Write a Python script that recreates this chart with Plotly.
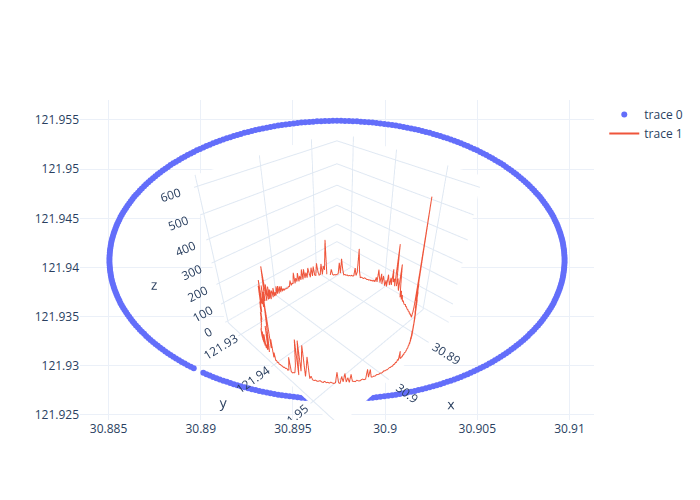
# Coordinates below are estimates: the ring is
# visibly continuous, so its positions are listed densely along the drawn band,
# and the altitudes are rough readings of the spikes (small noise is eyeballed).
import plotly.graph_objects as go

lat_x = [
30.89014,30.89031,30.89049,30.89067,30.89085,30.89103,30.89122,30.89141,30.89160,30.89179,30.89198,30.89217,
30.89237,30.89257,30.89277,30.89297,30.89317,30.89337,30.89358,30.89378,30.89399,30.89420,30.89440,30.89461,
30.89482,30.89504,30.89525,30.89546,30.89567,30.89589,30.89610,30.89631,30.89653,30.89674,30.89696,30.89717,
30.89739,
30.89761,30.89782,30.89804,30.89825,30.89847,30.89868,30.89889,30.89911,30.89932,30.89953,30.89974,30.89996,
30.90017,30.90038,30.90058,30.90079,30.90100,30.90120,30.90141,30.90161,30.90181,30.90201,30.90221,30.90241,
30.90261,30.90280,30.90299,30.90318,30.90337,30.90356,30.90375,30.90393,30.90411,30.90429,30.90447,30.90464,
30.90482,30.90499,30.90516,30.90532,30.90549,30.90565,30.90581,30.90596,30.90612,30.90627,30.90642,30.90656,
30.90670,30.90684,30.90698,30.90711,30.90724,30.90737,30.90750,30.90762,30.90774,30.90785,30.90797,30.90808,
30.90818,30.90829,30.90839,30.90848,30.90857,30.90866,30.90875,30.90883,30.90891,30.90899,30.90906,30.90913,
30.90919,30.90925,30.90931,30.90936,30.90941,30.90946,30.90950,30.90954,30.90958,30.90961,30.90964,30.90966,
30.90968,30.90970,30.90971,30.90972,30.90973,30.90973,
30.90973,30.90972,30.90971,30.90970,30.90968,30.90966,30.90964,30.90961,30.90958,30.90954,30.90950,30.90946,
30.90941,30.90936,30.90931,30.90925,30.90919,30.90913,30.90906,30.90899,30.90891,30.90883,30.90875,30.90866,
30.90857,30.90848,30.90839,30.90829,30.90818,30.90808,30.90797,30.90785,30.90774,30.90762,30.90750,30.90737,
30.90724,30.90711,30.90698,30.90684,30.90670,30.90656,30.90642,30.90627,30.90612,30.90596,30.90581,30.90565,
30.90549,30.90532,30.90516,30.90499,30.90482,30.90464,30.90447,30.90429,30.90411,30.90393,30.90375,30.90356,
30.90337,30.90318,30.90299,30.90280,30.90261,30.90241,30.90221,30.90201,30.90181,30.90161,30.90141,30.90120,
30.90100,30.90079,30.90058,30.90038,30.90017,30.89996,30.89974,30.89953,30.89932,30.89911,30.89889,30.89868,
30.89847,30.89825,30.89804,30.89782,30.89761,30.89739,
30.89717,30.89696,30.89674,30.89653,30.89631,30.89610,30.89589,30.89567,30.89546,30.89525,30.89504,30.89482,
30.89461,30.89440,30.89420,30.89399,30.89378,30.89358,30.89337,30.89317,30.89297,30.89277,30.89257,30.89237,
30.89217,30.89198,30.89179,30.89160,30.89141,30.89122,30.89103,30.89085,30.89067,30.89049,30.89031,30.89014,
30.88996,30.88979,30.88962,30.88946,30.88929,30.88913,30.88897,30.88882,30.88866,30.88851,30.88836,30.88822,
30.88808,30.88794,30.88780,30.88767,30.88754,30.88741,30.88728,30.88716,30.88704,30.88693,30.88681,30.88670,
30.88660,30.88649,30.88639,30.88630,30.88621,30.88612,30.88603,30.88595,30.88587,30.88579,30.88572,30.88565,
30.88559,30.88553,30.88547,30.88542,30.88537,30.88532,30.88528,30.88524,30.88520,30.88517,30.88514,30.88512,
30.88510,30.88508,30.88507,30.88506,30.88505,30.88505,
30.88505,30.88506,30.88507,30.88508,30.88510,30.88512,30.88514,30.88517,30.88520,30.88524,30.88528,30.88532,
30.88537,30.88542,30.88547,30.88553,30.88559,30.88565,30.88572,30.88579,30.88587,30.88595,30.88603,30.88612,
30.88621,30.88630,30.88639,30.88649,30.88660,30.88670,30.88681,30.88693,30.88704,30.88716,30.88728,30.88741,
30.88754,30.88767,30.88780,30.88794,30.88808,30.88822,30.88836,30.88851,30.88866,30.88882,30.88897,30.88913,
30.88929,30.88946,30.88962,
]

lon_y = [
121.92929,121.92915,121.92901,121.92887,121.92874,121.92861,121.92849,121.92837,121.92825,121.92813,121.92802,121.92792,
121.92781,121.92772,121.92762,121.92753,121.92744,121.92736,121.92728,121.92721,121.92714,121.92707,121.92701,121.92695,
121.92690,121.92685,121.92681,121.92676,121.92673,121.92670,121.92667,121.92664,121.92662,121.92661,121.92660,121.92659,
121.92659,
121.92659,121.92660,121.92661,121.92662,121.92664,121.92667,121.92670,121.92673,121.92676,121.92681,121.92685,121.92690,
121.92695,121.92701,121.92707,121.92714,121.92721,121.92728,121.92736,121.92744,121.92753,121.92762,121.92772,121.92781,
121.92792,121.92802,121.92813,121.92825,121.92837,121.92849,121.92861,121.92874,121.92887,121.92901,121.92915,121.92929,
121.92944,121.92959,121.92975,121.92990,121.93006,121.93023,121.93039,121.93056,121.93074,121.93091,121.93109,121.93128,
121.93146,121.93165,121.93184,121.93203,121.93223,121.93243,121.93263,121.93283,121.93304,121.93325,121.93346,121.93367,
121.93389,121.93410,121.93432,121.93454,121.93477,121.93499,121.93522,121.93545,121.93568,121.93591,121.93614,121.93637,
121.93661,121.93685,121.93709,121.93732,121.93756,121.93781,121.93805,121.93829,121.93853,121.93878,121.93902,121.93927,
121.93952,121.93976,121.94001,121.94026,121.94050,121.94075,
121.94100,121.94124,121.94149,121.94174,121.94198,121.94223,121.94248,121.94272,121.94297,121.94321,121.94345,121.94369,
121.94394,121.94418,121.94441,121.94465,121.94489,121.94513,121.94536,121.94559,121.94582,121.94605,121.94628,121.94651,
121.94673,121.94696,121.94718,121.94740,121.94761,121.94783,121.94804,121.94825,121.94846,121.94867,121.94887,121.94907,
121.94927,121.94947,121.94966,121.94985,121.95004,121.95022,121.95041,121.95059,121.95076,121.95094,121.95111,121.95127,
121.95144,121.95160,121.95175,121.95191,121.95206,121.95221,121.95235,121.95249,121.95263,121.95276,121.95289,121.95301,
121.95313,121.95325,121.95337,121.95348,121.95358,121.95369,121.95378,121.95388,121.95397,121.95406,121.95414,121.95422,
121.95429,121.95436,121.95443,121.95449,121.95455,121.95460,121.95465,121.95469,121.95474,121.95477,121.95480,121.95483,
121.95486,121.95488,121.95489,121.95490,121.95491,121.95491,
121.95491,121.95490,121.95489,121.95488,121.95486,121.95483,121.95480,121.95477,121.95474,121.95469,121.95465,121.95460,
121.95455,121.95449,121.95443,121.95436,121.95429,121.95422,121.95414,121.95406,121.95397,121.95388,121.95378,121.95369,
121.95358,121.95348,121.95337,121.95325,121.95313,121.95301,121.95289,121.95276,121.95263,121.95249,121.95235,121.95221,
121.95206,121.95191,121.95175,121.95160,121.95144,121.95127,121.95111,121.95094,121.95076,121.95059,121.95041,121.95022,
121.95004,121.94985,121.94966,121.94947,121.94927,121.94907,121.94887,121.94867,121.94846,121.94825,121.94804,121.94783,
121.94761,121.94740,121.94718,121.94696,121.94673,121.94651,121.94628,121.94605,121.94582,121.94559,121.94536,121.94513,
121.94489,121.94465,121.94441,121.94418,121.94394,121.94369,121.94345,121.94321,121.94297,121.94272,121.94248,121.94223,
121.94198,121.94174,121.94149,121.94124,121.94100,121.94075,
121.94050,121.94026,121.94001,121.93976,121.93952,121.93927,121.93902,121.93878,121.93853,121.93829,121.93805,121.93781,
121.93756,121.93732,121.93709,121.93685,121.93661,121.93637,121.93614,121.93591,121.93568,121.93545,121.93522,121.93499,
121.93477,121.93454,121.93432,121.93410,121.93389,121.93367,121.93346,121.93325,121.93304,121.93283,121.93263,121.93243,
121.93223,121.93203,121.93184,121.93165,121.93146,121.93128,121.93109,121.93091,121.93074,121.93056,121.93039,121.93023,
121.93006,121.92990,121.92975,
]

alt_z = [
18,210,45,68,20,82,22,18,45,90,20,
25,75,22,72,18,42,75,20,52,22,
75,18,78,20,45,16,66,20,42,15,
78,18,25,14,45,12,16,10,14,12,
16,10,24,12,45,14,50,14,60,20,
66,18,41,22,72,24,58,70,26,84,
36,108,42,72,132,48,144,235,60,114,
54,156,46,96,72,200,84,180,48,108,
72,20,66,18,42,14,22,12,18,10,
14,10,24,9,16,10,45,12,60,14,
22,12,50,14,75,16,40,14,80,12,
18,40,16,50,150,20,90,195,300,60,
110,20,50,12,16,10,14,9,12,10,
12,9,14,11,16,10,14,85,12,9,
14,16,60,190,14,190,40,105,175,20,
65,125,15,30,12,10,14,9,12,16,
10,8,16,9,12,8,14,10,8,12,
68,12,8,45,16,60,14,36,10,52,
14,12,9,16,10,8,12,14,9,10,
60,16,54,12,9,11,8,13,10,9,
12,8,10,14,9,11,8,10,12,9,
11,8,13,9,16,10,22,12,57,14,
10,12,9,14,10,16,12,9,14,12,
16,10,20,14,26,12,45,16,68,20,
90,24,52,105,28,128,60,98,45,142,
68,165,90,195,105,225,135,575,240,105,
60,45,18,24,14,20,12,18,10,16,
12,10,14,9,11,15,10,18,12,10,
14,22,12,45,16,60,20,90,190,45,
75,105,60,275,52,90,68,135,45,82,
38,60,90,20,52,18,45,68,20,75,
22,52,90,18,42,14,20,12,16,10,
14,10,12,9,13,16,10,12,15,10,
45,170,38,18,60,14,11,15,10,12,
9,14,11,16,12,45,105,22,82,18,
14,11,13,10,16,45,12,
]

y_range = [121.92449, 121.95703]
z_range = [-11, 639]

fig = go.Figure()
fig.add_trace(go.Scatter(x=lat_x, y=lon_y, mode="markers"))
fig.add_trace(go.Scatter3d(x=lat_x, y=lon_y, z=alt_z, mode="lines"))
fig.update_layout(
    template="plotly_white",
    width=700,
    height=500,
    yaxis_range=y_range,
    scene=dict(
        xaxis_title_text="x",
        yaxis_title_text="y",
        zaxis_title_text="z",
        zaxis_range=z_range,
    ),
)
fig.write_html(
    "out.html",
    config={"displayModeBar": False},
    post_script="document.body.style.margin='0';",
)
